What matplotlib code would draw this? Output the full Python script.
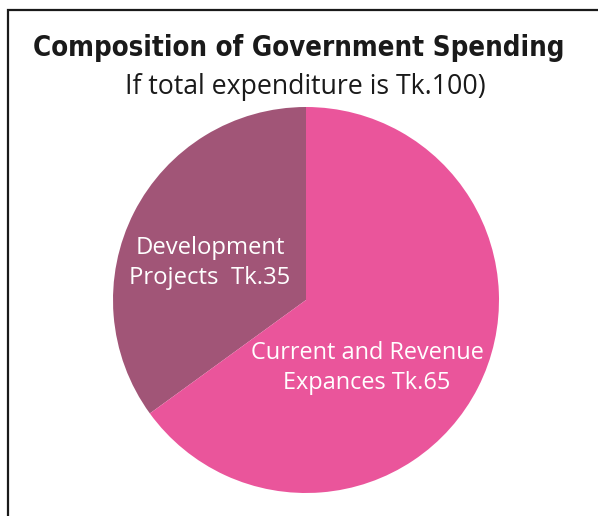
import matplotlib
matplotlib.use("Agg")
import matplotlib.pyplot as plt

# spending shares, out of Tk.100
labels = ["Development\nProjects  Tk.{}", "Current and Revenue\nExpances Tk.{}"]
values = [35, 65]
colors = ["#A15577", "#EA559B"]

W, H = 598, 516
fig = plt.figure(figsize=(W / 100, H / 100), dpi=100)
ax = fig.add_axes([0, 0, 1, 1])

cx, cy, r = 306, H - 300, 193
wedges, _ = ax.pie(values, colors=colors, startangle=90, counterclock=True,
                   center=(cx, cy), radius=r,
                   wedgeprops=dict(linewidth=0))

ax.set_xlim(0, W)
ax.set_ylim(0, H)
ax.set_aspect("equal")
ax.axis("off")

# frame around the chart (runs off the right and bottom)
ax.plot([8, 8, W + 5], [-5, H - 10, H - 10], color="#1a1a1a", lw=1.6,
        solid_joinstyle="miter", clip_on=False)

ax.text(299, H - 56, "Composition of Government Spending", ha="center", va="baseline",
        fontsize=19.8, fontweight="bold", fontstretch="condensed",
        family=["DejaVu Sans"], color="#1a1a1a")
ax.text(305, H - 94, "If total expenditure is Tk.100)", ha="center", va="baseline",
        fontsize=19.2, family=["Open Sans", "DejaVu Sans"], color="#1a1a1a")

ax.text(210, H - 263, labels[0].format(values[0]), ha="center", va="center",
        fontsize=17.2, family=["Open Sans", "DejaVu Sans"], color="white",
        linespacing=1.35)
ax.text(367, H - 368, labels[1].format(values[1]), ha="center", va="center",
        fontsize=16.9, family=["Open Sans", "DejaVu Sans"], color="white",
        linespacing=1.38)

fig.savefig("out.png", dpi=100)
